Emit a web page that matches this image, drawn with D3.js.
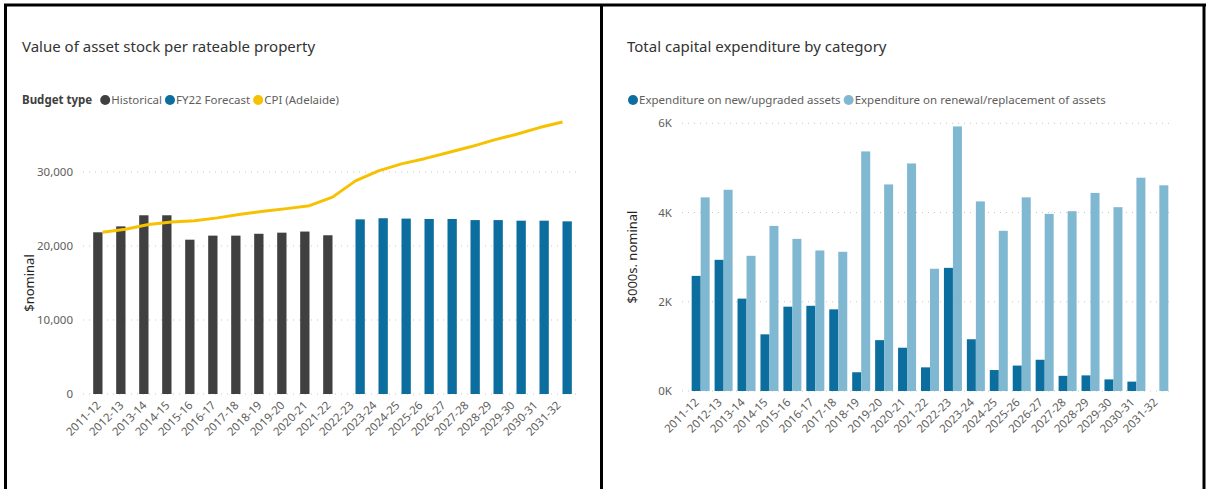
<!DOCTYPE html>
<html>
<head>
<meta charset="utf-8">
<script src="https://cdn.jsdelivr.net/npm/d3@7"></script>
<style>
  body { margin: 0; background: #fff; }
  svg { display: block; font-family: 'Segoe UI', 'Noto Sans', 'Open Sans', sans-serif; }
</style>
</head>
<body>
<svg id="chart" width="1211" height="489"></svg>
<script>
'use strict';
// categories (both charts share the same financial years)
var years = ['2011-12','2012-13','2013-14','2014-15','2015-16','2016-17','2017-18','2018-19','2019-20','2020-21',
             '2021-22','2022-23','2023-24','2024-25','2025-26','2026-27','2027-28','2028-29','2029-30','2030-31','2031-32'];

// left chart: value of asset stock per rateable property ($ nominal), null = no bar
var historical = [21850,22650,24150,24150,20850,21400,21400,21650,21800,21950,21450,
                  null,null,null,null,null,null,null,null,null,null];
var forecast   = [null,null,null,null,null,null,null,null,null,null,null,
                  23600,23750,23700,23650,23650,23500,23500,23420,23420,23330];
var cpi        = [21850,22250,22900,23250,23400,23800,24300,24700,25050,25450,26600,
                  28800,30150,31100,31800,32600,33400,34300,35100,36000,36750];
var leftTicks = [0,10000,20000,30000];

// right chart: capital expenditure by category ($000s nominal)
var newAssets     = [2580,2940,2070,1270,1890,1910,1830,420,1140,970,530,2760,1160,470,570,700,340,350,260,210,0];
var renewalAssets = [4340,4510,3030,3700,3410,3150,3120,5370,4630,5100,2740,5930,4250,3590,4340,3970,4030,4440,4120,4780,4610];
var rightTicks = [0,2000,4000,6000];

var svg = d3.select('#chart');
var gridColor = '#c8c6c4', tickColor = '#605e5c', titleColor = '#252423';

// frame lines around the two visuals
svg.append('g').selectAll('line')
   .data([[4,5,1206,5],[5.5,4,5.5,489],[601.5,4,601.5,489],[1204,4,1204,489]])
   .enter().append('line')
   .attr('x1',d=>d[0]).attr('y1',d=>d[1]).attr('x2',d=>d[2]).attr('y2',d=>d[3])
   .attr('stroke','#000').attr('stroke-width',3);

function title(x, text){
  svg.append('text').attr('x',x).attr('y',52).text(text)
     .style('font-size','15px').style('fill','#333');
}

// legend: optional bold heading then dot + label pairs
function legend(x, heading, items){
  var g = svg.append('g').attr('transform','translate('+x+',104)');
  var cx = 0;
  if(heading){
    var h = g.append('text').text(heading).style('font-size','11.5px').style('font-weight','bold').style('fill','#404040');
    cx = h.node().getComputedTextLength() + 8;
  }
  items.forEach(function(it){
    g.append('circle').attr('cx',cx+5).attr('cy',-4).attr('r',5).attr('fill',it.color);
    var t = g.append('text').attr('x',cx+11).text(it.name).style('font-size','11.5px').style('fill',tickColor);
    cx += 11 + t.node().getComputedTextLength() + 3;
  });
}

function yAxis(y, ticks, x0, x1, fmt){
  var g = svg.append('g');
  g.selectAll('line').data(ticks).enter().append('line')
   .attr('x1',x0).attr('x2',x1).attr('y1',d=>y(d)).attr('y2',d=>y(d))
   .attr('stroke',gridColor).attr('stroke-width',1).attr('stroke-dasharray','1,5');
  g.selectAll('text').data(ticks).enter().append('text')
   .attr('x',x0-10).attr('y',d=>y(d)).attr('dy','0.35em')
   .attr('text-anchor','end').text(fmt)
   .style('font-size','11.5px').style('fill',tickColor);
}

function xLabels(x, y0){
  svg.append('g').selectAll('text').data(years).enter().append('text')
     .attr('transform',d=>'translate('+(x(d)+x.bandwidth()/2-1)+','+(y0+12)+') rotate(-45)')
     .attr('text-anchor','end').text(d=>d)
     .style('font-size','11.5px').style('fill',tickColor);
}

function yTitle(x, y, text){
  svg.append('text').attr('transform','translate('+x+','+y+') rotate(-90)')
     .attr('text-anchor','middle').text(text)
     .style('font-size','13px').style('fill',titleColor);
}

// ---------- left chart ----------
title(22,'Value of asset stock per rateable property');
legend(22,'Budget type',[{name:'Historical',color:'#404040'},{name:'FY22 Forecast',color:'#0c6e9e'},{name:'CPI (Adelaide)',color:'#f6c100'}]);

var xL = d3.scaleBand().domain(years).range([91,574]).paddingInner(0.19).paddingOuter(0.095);
var subL = d3.scaleBand().domain(['h','f']).range([0,xL.bandwidth()]);
var yL = d3.scaleLinear().domain([0,37700]).range([394,115]);

yAxis(yL, leftTicks, 83, 578, d3.format(','));
yTitle(34, 283, '$nominal');

var lb = svg.append('g');
lb.selectAll('rect.h').data(years.filter((d,i)=>historical[i]!==null)).enter().append('rect')
  .attr('x',d=>xL(d)+subL('h')).attr('width',subL.bandwidth())
  .attr('y',d=>yL(historical[years.indexOf(d)])).attr('height',d=>yL(0)-yL(historical[years.indexOf(d)]))
  .attr('fill','#404040');
lb.selectAll('rect.f').data(years.filter((d,i)=>forecast[i]!==null)).enter().append('rect')
  .attr('x',d=>xL(d)+subL('f')).attr('width',subL.bandwidth())
  .attr('y',d=>yL(forecast[years.indexOf(d)])).attr('height',d=>yL(0)-yL(forecast[years.indexOf(d)]))
  .attr('fill','#0c6e9e');

var line = d3.line().x((d,i)=>xL(years[i])+xL.bandwidth()/2).y(d=>yL(d));
svg.append('path').datum(cpi).attr('d',line)
   .attr('fill','none').attr('stroke','#f6c100').attr('stroke-width',3).attr('stroke-linejoin','round');

xLabels(xL, 394);

// ---------- right chart ----------
title(627,'Total capital expenditure by category');
legend(628,null,[{name:'Expenditure on new/upgraded assets',color:'#0c6e9e'},{name:'Expenditure on renewal/replacement of assets',color:'#80b8d2'}]);

var xR = d3.scaleBand().domain(years).range([689.2,1170.8]).paddingInner(0.215).paddingOuter(0.1075);
var subR = d3.scaleBand().domain(['n','r']).range([0,xR.bandwidth()]);
var yR = d3.scaleLinear().domain([0,6000]).range([391,123.3]);

yAxis(yR, rightTicks, 682, 1174, d=>(d/1000)+'K');
yTitle(637, 257, '$000s. nominal');

var rb = svg.append('g');
rb.selectAll('rect.n').data(years).enter().append('rect')
  .attr('x',d=>xR(d)+subR('n')).attr('width',subR.bandwidth())
  .attr('y',(d,i)=>yR(newAssets[i])).attr('height',(d,i)=>yR(0)-yR(newAssets[i]))
  .attr('fill','#0c6e9e');
rb.selectAll('rect.r').data(years).enter().append('rect')
  .attr('x',d=>xR(d)+subR('r')).attr('width',subR.bandwidth())
  .attr('y',(d,i)=>yR(renewalAssets[i])).attr('height',(d,i)=>yR(0)-yR(renewalAssets[i]))
  .attr('fill','#80b8d2');

xLabels(xR, 391);
</script>
</body>
</html>
